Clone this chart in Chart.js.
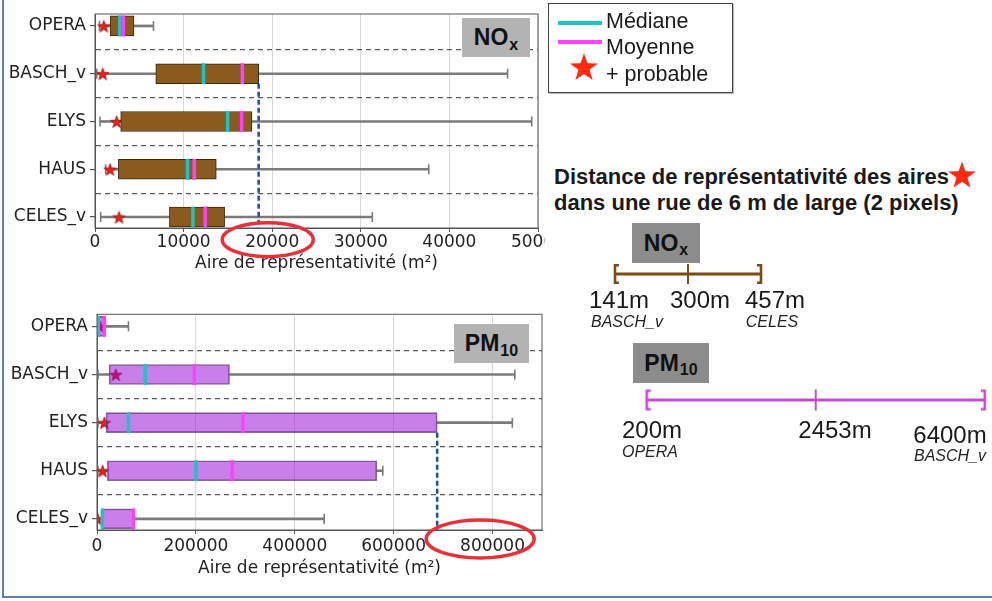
<!DOCTYPE html>
<html>
<head>
<meta charset="utf-8">
<script src="https://cdn.jsdelivr.net/npm/chart.js@4/dist/chart.umd.min.js"></script>
<style>
  html, body { margin: 0; padding: 0; background: #fff; }
  #page { position: relative; width: 992px; height: 601px; overflow: hidden;
          font-family: 'Liberation Sans', Arial, sans-serif; color: #1a1a1a; }
  #page canvas { position: absolute; }
  .clip { position: absolute; overflow: hidden; }
  .clip canvas { left: 0; top: 0; }
  .abs { position: absolute; white-space: nowrap; line-height: 1; }
  .c { transform: translate(-50%, -50%); }
  .l { transform: translateY(-50%); }
  .tag { position: absolute; display: flex; align-items: center; justify-content: center;
         font-weight: bold; font-size: 23px; color: #111; line-height: 1; }
  .tag small { font-size: 16px; position: relative; top: 7px; margin-left: 1px; }
  #frame { position: absolute; left: 2px; top: -4px; width: 988px; height: 600px;
           border-left: 2px solid #5a7fb8; border-bottom: 2px solid #5a7fb8; }
  #legend { position: absolute; left: 548px; top: 3px; width: 183px; height: 88px;
            border: 1.5px solid #444; box-shadow: 1px 1px 1px rgba(0,0,0,0.25); }
  .key { position: absolute; height: 4px; }
  .legtxt { font-size: 21.5px; color: #1a1a1a; }
  .title { font-size: 22px; font-weight: bold; color: #1a1a1a; }
  .dist { font-size: 24px; color: #1a1a1a; }
  .site { font-size: 16px; font-style: italic; color: #222; }
</style>
</head>
<body>
<div id="page">
  <div id="frame"></div>

  <div class="clip" style="left:0;top:0;width:545px;height:280px">
    <canvas id="noxChart" width="552" height="280"></canvas>
  </div>
  <div class="clip" style="left:0;top:300px;width:545px;height:300px">
    <canvas id="pmChart" width="556" height="300"></canvas>
  </div>

  <div class="tag" style="left:462px;top:18px;width:68px;height:39px;background:#b3b3b3">NO<small>x</small></div>
  <div class="tag" style="left:454px;top:324px;width:75px;height:39px;background:#b3b3b3">PM<small>10</small></div>

  <div id="legend"></div>
  <div class="key" style="left:558px;top:21px;width:44px;background:#1cc4c4"></div>
  <div class="abs l legtxt" style="left:606px;top:22px">Médiane</div>
  <div class="key" style="left:558px;top:40px;width:44px;background:#ff44ff"></div>
  <div class="abs l legtxt" style="left:606px;top:48px">Moyenne</div>
  <svg id="legStar" class="abs" style="left:569px;top:52px" width="30" height="30"></svg>
  <div class="abs l legtxt" style="left:606px;top:75px">+ probable</div>

  <div class="abs l title" style="left:554px;top:177px">Distance de représentativité des aires</div>
  <svg id="titleStar" class="abs" style="left:947px;top:160px" width="30" height="30"></svg>
  <div class="abs l title" style="left:554px;top:203px">dans une rue de 6 m de large (2 pixels)</div>

  <div class="tag" style="left:632px;top:223px;width:68px;height:40px;background:#8c8c8c">NO<small>x</small></div>
  <div class="tag" style="left:633px;top:343px;width:76px;height:40px;background:#8c8c8c">PM<small>10</small></div>

  <canvas id="noxRange" width="180" height="40" style="left:600px;top:254px"></canvas>
  <canvas id="pmRange" width="362" height="40" style="left:630px;top:380px"></canvas>
</div>

<script>
// ---- data -------------------------------------------------------------
const stations = ['OPERA', 'BASCH_v', 'ELYS', 'HAUS', 'CELES_v'];

// NOx representativeness areas (m²)
const noxTicks = [0, 10000, 20000, 30000, 40000, 50000];
const noxMin  = [500, 200, 570, 1200, 640];
const noxQ1   = [1700, 6860, 2900, 2640, 8400];
const noxMed  = [2800, 12250, 14970, 10440, 11050];
const noxMean = [3200, 16630, 16550, 11200, 12440];
const noxQ3   = [4400, 18470, 17720, 13690, 14630];
const noxMax  = [6600, 46570, 49290, 37670, 31300];
const noxMode = [1000, 870, 2450, 1700, 2710];

// PM10 representativeness areas (m²)
const pmTicks = [0, 200000, 400000, 600000, 800000];
const pmMin  = [300, 2000, 2000, 2000, 1000];
const pmQ1   = [600, 24400, 18300, 21000, 10800];
const pmMed  = [2600, 97500, 63600, 200400, 10800];
const pmMean = [14800, 197000, 295000, 273500, 73700];
const pmQ3   = [18000, 268000, 688000, 566000, 75700];
const pmMax  = [63600, 845000, 840000, 578000, 459500];
const pmMode = [6000, 38000, 14800, 11500, 1500];

// distances in a 6 m wide street
const noxDistances = [141, 300, 457];
const noxDistanceSites = ['BASCH_v', '', 'CELES'];
const pmDistances = [200, 2453, 6400];
const pmDistanceSites = ['OPERA', '', 'BASCH_v'];

// ---- helpers ----------------------------------------------------------
Chart.defaults.font.family = "'DejaVu Sans', sans-serif";
Chart.defaults.font.size = 17;
Chart.defaults.color = '#222';

const CYAN = '#1cc4c4', MAGENTA = '#ff40ff', WHISKER = '#7a7a7a', BOX = 20;

function starPoints(cx, cy, r) {
  const pts = [];
  for (let k = 0; k < 10; k++) {
    const rad = k % 2 ? r * 0.4 : r;
    const a = -Math.PI / 2 + k * Math.PI / 5;
    pts.push([cx + rad * Math.cos(a), cy + rad * Math.sin(a)]);
  }
  return pts;
}

function starImage(r) {
  const c = document.createElement('canvas');
  const s = Math.ceil(r * 2 + 2);
  c.width = s; c.height = s;
  const g = c.getContext('2d');
  g.beginPath();
  starPoints(s / 2, s / 2 + 0.8, r).forEach(([x, y], i) => i ? g.lineTo(x, y) : g.moveTo(x, y));
  g.closePath();
  g.fillStyle = '#e5221b'; g.fill();
  g.lineWidth = 0.8; g.strokeStyle = '#9a1010'; g.stroke();
  return c;
}

function svgStar(id, r, color) {
  const svg = document.getElementById(id);
  const s = +svg.getAttribute('width');
  const pts = starPoints(s / 2, s / 2 + 1, r).map(p => p.join(',')).join(' ');
  svg.innerHTML = `<polygon points="${pts}" fill="${color}"/>`;
}
svgStar('legStar', 14.7, '#ff2a10');
svgStar('titleStar', 14.5, '#ff2a10');

function boxChart(id, d) {
  const rows = stations.map((_, i) => i + 1);
  const pts = arr => arr.map((v, i) => ({ x: v, y: rows[i] }));
  const seps = rows.flatMap(r => r < rows.length ? [r, r + 0.5] : [r]);
  const starImg = starImage(6.5);

  const datasets = [
    { type: 'bar', data: rows.map((r, i) => ({ x: [d.min[i], d.q1[i]], y: r })),
      backgroundColor: WHISKER, borderWidth: 0, barThickness: 2, grouped: false, order: 6 },
    { type: 'bar', data: rows.map((r, i) => ({ x: [d.q3[i], d.max[i]], y: r })),
      backgroundColor: WHISKER, borderWidth: 0, barThickness: 2, grouped: false, order: 6 },
    { type: 'scatter', data: [...pts(d.min), ...pts(d.max)],
      pointStyle: 'line', pointRotation: 90, pointRadius: 5,
      pointBorderWidth: 1.6, pointBorderColor: WHISKER, order: 5 },
    { type: 'scatter', data: pts(d.mode), pointStyle: starImg, order: 4 },
    { type: 'bar', data: rows.map((r, i) => ({ x: [d.q1[i], d.q3[i]], y: r })),
      backgroundColor: d.fill, borderColor: d.edge, borderWidth: 1, borderSkipped: false,
      barThickness: BOX, grouped: false, order: 3 },
    { type: 'scatter', data: pts(d.med), pointStyle: 'line', pointRotation: 90,
      pointRadius: 10.5, pointBorderWidth: 3.5, pointBorderColor: CYAN, order: 2 },
    { type: 'scatter', data: pts(d.mean), pointStyle: 'line', pointRotation: 90,
      pointRadius: 10.5, pointBorderWidth: 3.5, pointBorderColor: MAGENTA, order: 1 }
  ];

  return new Chart(document.getElementById(id), {
    type: 'bar',
    data: { datasets },
    options: {
      indexAxis: 'y',
      responsive: false,
      animation: false,
      events: [],
      layout: { padding: d.padding },
      plugins: { legend: { display: false }, tooltip: { enabled: false } },
      scales: {
        x: {
          type: 'linear', min: 0, max: d.xMax, offset: false,
          afterBuildTicks: s => { s.ticks = d.ticks.map(v => ({ value: v })); },
          afterFit: s => { s.height = d.xHeight; s.paddingLeft = 0; s.paddingRight = 0; },
          ticks: { callback: v => String(v), autoSkip: false, maxRotation: 0, padding: d.tickPad },
          grid: { color: '#d8d8d8', lineWidth: 1, tickLength: 4, tickColor: '#555', offset: false },
          border: { color: '#555' },
          title: { display: true, text: 'Aire de représentativité (m²)',
                   padding: { top: 0, bottom: d.titlePad } }
        },
        y: {
          type: 'linear', min: 0.75, max: 5.23, reverse: true, offset: false,
          afterBuildTicks: s => { s.ticks = seps.map(v => ({ value: v })); },
          afterFit: s => { s.width = d.yWidth; s.paddingTop = 0; s.paddingBottom = 0; },
          ticks: { autoSkip: false, padding: 4,
                   callback: v => Number.isInteger(v) ? stations[v - 1] : '' },
          grid: {
            color: c => Number.isInteger(c.tick.value) ? 'rgba(0,0,0,0)' : '#5a5a5a',
            tickColor: c => Number.isInteger(c.tick.value) ? '#555' : 'rgba(0,0,0,0)',
            tickLength: 5, lineWidth: 1.2, offset: false
          },
          border: { dash: [5, 4], color: '#555' }
        }
      }
    },
    plugins: [{
      id: 'extras',
      afterDatasetsDraw(chart) {
        const { ctx, chartArea: a, scales: { x, y } } = chart;
        // dashed guide from the end of the reference box down to the axis
        const gx = x.getPixelForValue(d.q3[d.guideRow]);
        const gy = y.getPixelForValue(d.guideRow + 1) + BOX / 2;
        ctx.save();
        ctx.strokeStyle = '#1c4f99'; ctx.lineWidth = 2.5; ctx.setLineDash([5, 3]);
        ctx.beginPath(); ctx.moveTo(gx, gy); ctx.lineTo(gx, a.bottom); ctx.stroke();
        ctx.restore();
        // axes frame
        ctx.save();
        ctx.strokeStyle = '#555'; ctx.lineWidth = 1;
        ctx.strokeRect(a.left, a.top, a.right - a.left, a.bottom - a.top);
        ctx.restore();
      },
      afterDraw(chart) {
        // ring around the highlighted tick label
        const { ctx, chartArea: a, scales: { x } } = chart;
        ctx.save();
        ctx.strokeStyle = '#e8303a'; ctx.lineWidth = 3.5;
        ctx.beginPath();
        ctx.ellipse(x.getPixelForValue(d.ring.at), a.bottom + d.ring.dy, d.ring.rx, d.ring.ry, 0, 0, Math.PI * 2);
        ctx.stroke();
        ctx.restore();
      }
    }]
  });
}

boxChart('noxChart', {
  min: noxMin, q1: noxQ1, med: noxMed, mean: noxMean, q3: noxQ3, max: noxMax, mode: noxMode,
  ticks: noxTicks, xMax: 50000, fill: '#8a5a1f', edge: '#3a2710',
  padding: { top: 13.5, right: 8, left: 0, bottom: 0 },
  yWidth: 95, xHeight: 52, tickPad: 0, titlePad: 5.8,
  guideRow: 1, ring: { at: 19500, dy: 11.7, rx: 45.5, ry: 17 }
});

boxChart('pmChart', {
  min: pmMin, q1: pmQ1, med: pmMed, mean: pmMean, q3: pmQ3, max: pmMax, mode: pmMode,
  ticks: pmTicks, xMax: 900000, fill: 'rgba(148,0,211,0.5)', edge: 'rgba(90,60,110,0.75)',
  padding: { top: 14.3, right: 4.3, left: 0, bottom: 0 },
  yWidth: 97, xHeight: 70, tickPad: 2, titlePad: 21.5,
  guideRow: 2, ring: { at: 775000, dy: 9, rx: 54, ry: 19 }
});

// ---- distance ranges ---------------------------------------------------
function bracketImage(kind, color, h, w) {
  const c = document.createElement('canvas');
  c.width = 12; c.height = h + 2;
  const g = c.getContext('2d');
  g.strokeStyle = color; g.lineWidth = w;
  const cx = 6;
  g.beginPath();
  g.moveTo(cx, 1); g.lineTo(cx, h + 1);
  const dir = kind === 'open' ? 1 : kind === 'close' ? -1 : 0;
  if (dir) {
    g.moveTo(cx - dir * w / 2, 1 + w / 2); g.lineTo(cx + dir * 4, 1 + w / 2);
    g.moveTo(cx - dir * w / 2, h + 1 - w / 2); g.lineTo(cx + dir * 4, h + 1 - w / 2);
  }
  g.stroke();
  return c;
}

function rangeChart(id, distances, color, padding, h) {
  return new Chart(document.getElementById(id), {
    type: 'line',
    data: {
      labels: distances.map(v => v + 'm'),
      datasets: [{
        data: distances.map(() => 0),
        borderColor: color, borderWidth: 3.2, clip: false,
        pointStyle: [bracketImage('open', color, h, 2.6), bracketImage('tick', color, h, 2),
                     bracketImage('close', color, h, 2.6)]
      }]
    },
    options: {
      responsive: false, animation: false, events: [],
      layout: { padding },
      plugins: { legend: { display: false }, tooltip: { enabled: false } },
      scales: {
        x: { type: 'category', display: false, offset: false },
        y: { type: 'linear', display: false, min: -1, max: 1 }
      }
    }
  });
}

rangeChart('noxRange', noxDistances, '#7b4b15', { left: 15, right: 19, top: 0, bottom: 0 }, 20);
rangeChart('pmRange', pmDistances, '#c24fca', { left: 16.7, right: 2, top: 0, bottom: 0 }, 21);

// distance labels under each range
function addLabels(distances, sites, valuePos, sitePos) {
  const page = document.getElementById('page');
  distances.forEach((v, i) => {
    const t = document.createElement('div');
    t.className = 'abs c dist';
    t.style.left = valuePos[i][0] + 'px'; t.style.top = valuePos[i][1] + 'px';
    t.textContent = v + 'm';
    page.appendChild(t);
    if (sites[i]) {
      const s = document.createElement('div');
      s.className = 'abs c site';
      s.style.left = sitePos[i][0] + 'px'; s.style.top = sitePos[i][1] + 'px';
      s.textContent = sites[i];
      page.appendChild(s);
    }
  });
}
addLabels(noxDistances, noxDistanceSites,
          [[619, 300], [700, 300], [775, 300]], [[627, 322], null, [772, 322]]);
addLabels(pmDistances, pmDistanceSites,
          [[652, 430], [835, 430], [950, 435]], [[650, 452], null, [950, 456]]);
</script>
</body>
</html>
